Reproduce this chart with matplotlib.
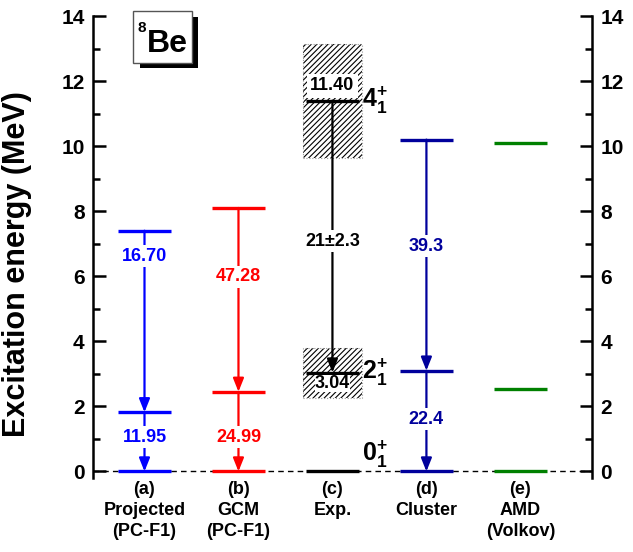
import numpy as np
import matplotlib
matplotlib.use("Agg")
import matplotlib.pyplot as plt
from matplotlib.patches import Rectangle

plt.rcParams["font.family"] = "Liberation Sans"
plt.rcParams["font.weight"] = "bold"
plt.rcParams["axes.labelweight"] = "bold"
plt.rcParams["mathtext.fontset"] = "custom"
plt.rcParams["mathtext.rm"] = "Liberation Sans:bold"
plt.rcParams["mathtext.it"] = "Liberation Sans:bold"
plt.rcParams["mathtext.bf"] = "Liberation Sans:bold"
plt.rcParams["hatch.linewidth"] = 0.8

# level schemes: 0+, 2+, 4+ energies (MeV)
columns = ["(a)\nProjected\n(PC-F1)", "(b)\nGCM\n(PC-F1)", "(c)\nExp.", "(d)\nCluster", "(e)\nAMD\n(Volkov)"]
colors = ["#0000FF", "#FF0000", "#000000", "#00009C", "#008000"]
e_ground = [0.0, 0.0, 0.0, 0.0, 0.0]
e_2plus = [1.82, 2.45, 3.04, 3.10, 2.55]
e_4plus = [7.40, 8.10, 11.40, 10.20, 10.10]

# B(E2) values (W.u.) for 2+ -> 0+ and 4+ -> 2+, with label heights
be2_20 = ["11.95", "24.99", None, "22.4", None]
be2_42 = ["16.70", "47.28", "21\u00b12.3", "39.3", None]
be2_20_y = [1.06, 1.06, None, 1.61, None]
be2_42_y = [6.62, 5.98, 7.08, 6.93, None]

# experimental widths shown as hatched bands
exp_4plus_band = (9.63, 13.13)
exp_2plus_band = (2.27, 3.80)


def draw_arrow(ax, x, y_top, y_bot, color):
    ax.annotate(
        "", xy=(x, y_bot), xytext=(x, y_top),
        arrowprops=dict(arrowstyle="-|>,head_length=0.4,head_width=0.16",
                        mutation_scale=20, color=color, lw=1.6,
                        shrinkA=0, shrinkB=0),
        zorder=3,
    )


def main():
    fig = plt.figure(figsize=(6.33, 5.52), dpi=100)
    ax = fig.add_axes([93 / 633, (552 - 478) / 552, 499 / 633, 462 / 552])

    centers = np.arange(1, len(columns) + 1)
    half = 0.28

    ax.axhline(0, color="black", lw=1.0, ls=(0, (4, 3)), zorder=1)

    # hatched uncertainty bands for the experimental levels
    xc = centers[2]
    for lo, hi in (exp_4plus_band, exp_2plus_band):
        ax.add_patch(Rectangle((xc - 0.31, lo), 0.62, hi - lo, facecolor="white",
                               edgecolor="black", hatch="//////", lw=0, zorder=1))
        ax.add_patch(Rectangle((xc - 0.31, lo), 0.62, hi - lo, fill=False,
                               edgecolor="#999999", lw=0.8, ls=":", zorder=1))

    for i, xc in enumerate(centers):
        c = colors[i]
        for e in (e_ground[i], e_2plus[i], e_4plus[i]):
            ax.plot([xc - half, xc + half], [e, e], color=c, lw=2.4,
                    solid_capstyle="butt", zorder=3)
        if be2_42[i] is not None:
            draw_arrow(ax, xc, e_4plus[i], e_2plus[i], c)
            ax.text(xc, be2_42_y[i], be2_42[i], color=c, fontsize=13,
                    ha="center", va="center", zorder=4,
                    bbox=dict(facecolor="white", edgecolor="none", pad=2))
        if be2_20[i] is not None:
            draw_arrow(ax, xc, e_2plus[i], e_ground[i], c)
            ax.text(xc, be2_20_y[i], be2_20[i], color=c, fontsize=13,
                    ha="center", va="center", zorder=4,
                    bbox=dict(facecolor="white", edgecolor="none", pad=2))
        ax.text(xc, -0.29, columns[i], fontsize=13, ha="center", va="top",
                linespacing=1.3, clip_on=False)

    # experimental energies and spin labels
    xc = centers[2]
    ax.text(xc, 11.85, "11.40", fontsize=13, ha="center", va="center", zorder=4,
            bbox=dict(facecolor="white", edgecolor="none", pad=2.5))
    ax.text(xc, 2.70, "3.04", fontsize=13, ha="center", va="center", zorder=4,
            bbox=dict(facecolor="white", edgecolor="none", pad=0))
    ax.text(xc + 0.31, 11.40, r"$4_{1}^{+}$", fontsize=18, ha="left", va="center")
    ax.text(xc + 0.31, 3.04, r"$2_{1}^{+}$", fontsize=18, ha="left", va="center")
    ax.text(xc + 0.31, 0.05, r"$0_{1}^{+}$", fontsize=18, ha="left", va="bottom")

    ax.set_xlim(0.452, 5.762)
    ax.set_ylim(-0.2, 14)
    ax.set_yticks(np.arange(0, 15, 2))
    ax.set_yticks(np.arange(1, 14, 2), minor=True)
    ax.set_xticks([])
    ax.tick_params(axis="y", which="both", direction="in", right=True,
                   labelright=True, labelsize=15, width=1.8, pad=6)
    ax.tick_params(axis="y", which="major", length=9)
    ax.tick_params(axis="y", which="minor", length=5)
    for lbl in ax.get_yticklabels():
        lbl.set_fontweight("bold")
    for side in ("top", "bottom"):
        ax.spines[side].set_visible(False)
    for side in ("left", "right"):
        ax.spines[side].set_linewidth(1.8)

    ax.set_ylabel("Excitation energy (MeV)", fontsize=22, fontweight="bold")
    ax.yaxis.set_label_coords(-0.123, 0.462)

    # nucleus tag with drop shadow
    fig.patches.append(Rectangle((140 / 633, (552 - 68) / 552), 58 / 633, 51 / 552,
                                 transform=fig.transFigure, facecolor="black",
                                 edgecolor="none"))
    fig.patches.append(Rectangle((133 / 633, (552 - 63) / 552), 59 / 633, 52 / 552,
                                 transform=fig.transFigure, facecolor="white",
                                 edgecolor="#555555", lw=1.0))
    fig.text(137 / 633, (552 - 32) / 552, "8", fontsize=11, va="baseline", ha="left")
    fig.text(147 / 633, (552 - 52) / 552, "Be", fontsize=23, va="baseline", ha="left")

    fig.savefig("out.png", dpi=100)
    plt.close(fig)


if __name__ == "__main__":
    main()
